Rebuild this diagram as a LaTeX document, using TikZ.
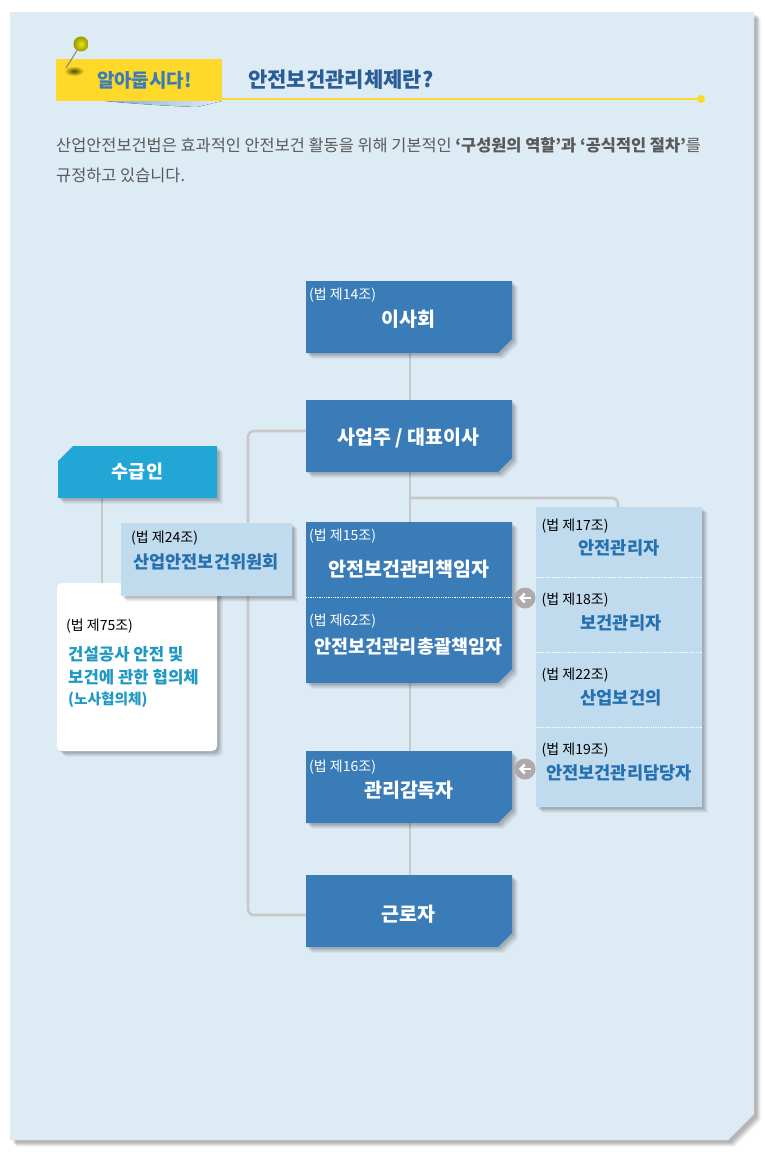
\documentclass[tikz,border=0pt]{standalone}
\usepackage{fontspec}
\setmainfont{Noto Sans CJK KR}
\usetikzlibrary{shadows,arrows.meta}
\pgfdeclarelayer{backdrop}
\pgfdeclarelayer{links}
\pgfdeclarelayer{boxes}
\pgfsetlayers{backdrop,links,boxes,main}
\definecolor{panelblue}{HTML}{DDEBF5}
\definecolor{boxblue}{HTML}{397CB8}
\definecolor{skyblue}{HTML}{22A6D5}
\definecolor{paleblue}{HTML}{C1DBEE}
\definecolor{titleblue}{HTML}{2570B0}
\definecolor{headblue}{HTML}{2A5D95}
\definecolor{linegray}{HTML}{C8C8CB}
\definecolor{circgray}{HTML}{B0A9AB}
\definecolor{signyellow}{HTML}{FFD92A}
\tikzset{
  softshadow/.style={general shadow={shadow xshift=6pt,shadow yshift=-6pt,fill=black,opacity=.03},
    general shadow={shadow xshift=5pt,shadow yshift=-5pt,fill=black,opacity=.05},
    general shadow={shadow xshift=4pt,shadow yshift=-4pt,fill=black,opacity=.06},
    general shadow={shadow xshift=3pt,shadow yshift=-3pt,fill=black,opacity=.07},
    general shadow={shadow xshift=2pt,shadow yshift=-2pt,fill=black,opacity=.07}},
  bluebox/.style={rectangle,minimum width=206pt,minimum height=72pt,inner sep=0pt,outer sep=0pt},
  lawtag/.style={anchor=west,inner sep=0pt,font=\fontsize{14}{14}\selectfont},
  lawwhite/.style={lawtag,text=white},
  staffname/.style={inner sep=0pt,text=titleblue,font=\fontsize{17.6}{17.6}\selectfont\bfseries},
  boxname/.style={text=white,inner sep=0pt,font=\fontsize{19.5}{19.5}\selectfont\bfseries},
  labortext/.style={anchor=west,inner sep=0pt,text=skyblue!92!black,font=\fontsize{16.7}{16.7}\selectfont\bfseries},
  introtext/.style={anchor=west,text=black!65,inner sep=0pt,font=\fontsize{16.4}{16.4}\selectfont},
  link/.style={draw=linegray,line width=2.6pt,rounded corners=6pt},
  divider/.style={white,densely dotted,line width=.8pt},
  backcircle/.style={circle,fill=circgray,minimum size=21pt,inner sep=0pt},
}
\begin{document}
\begin{tikzpicture}[x=1pt,y=-1pt]
\useasboundingbox (0,0) rectangle (764,1156);
% panel
\begin{pgfonlayer}{backdrop}
\fill[panelblue,general shadow={shadow xshift=7pt,shadow yshift=-7pt,fill=black,opacity=.03},
  general shadow={shadow xshift=6pt,shadow yshift=-6pt,fill=black,opacity=.05},
  general shadow={shadow xshift=5pt,shadow yshift=-5pt,fill=black,opacity=.07},
  general shadow={shadow xshift=4pt,shadow yshift=-4pt,fill=black,opacity=.08},
  general shadow={shadow xshift=3pt,shadow yshift=-3pt,fill=black,opacity=.09}]
  (10,12) -- (754,12) -- (754,1114) -- (728,1140) -- (10,1140) -- cycle;
\end{pgfonlayer}
% header
\fill[left color=boxblue!55!panelblue,right color=panelblue]
  (105,101) -- (222,101) -- (197,107) .. controls (170,106) and (135,104) .. (105,101) -- cycle;
\node (sign) at (139,80) [rectangle,fill=signyellow,minimum width=166pt,minimum height=42pt,inner sep=0pt] {};
\node (signtext) at (144.5,80) [text=boxblue,inner sep=0pt,font=\fontsize{19}{19}\selectfont\bfseries] {알아둡시다!};
\shade[inner color=black!40!olive,outer color=signyellow] (74,71) ellipse (10pt and 5pt);
\coordinate (pintip) at (66,68);
\node (pinball) at (81,44) [circle,shading=radial,inner color=olive!25!yellow!80!white,outer color=olive!80!yellow,minimum size=15pt,inner sep=0pt] {};
\node (linedot) at (701,99) [circle,fill=signyellow,minimum size=8pt,inner sep=0pt] {};
\draw[gray,line width=1pt] (pintip) -- (pinball);
\draw[signyellow,line width=2pt] (sign.east |- linedot) -- (linedot);
\node (headline) at (248,80) [anchor=west,text=headblue,inner sep=0pt,font=\fontsize{21}{21}\selectfont\bfseries] {안전보건관리체제란?};
\node (introa) at (56,145) [introtext]
  {산업안전보건법은 효과적인 안전보건 활동을 위해 기본적인 \textbf{‘구성원의 역할’과 ‘공식적인 절차’}를};
\node (introb) at (56,175) [introtext] {규정하고 있습니다.};
% main column
\node (board) at (409,317) [bluebox] {};
\node (boardlaw) at (309,295) [lawwhite] {(법 제14조)};
\node (boardname) at (408.5,319) [boxname] {이사회};
\node (owner) at (409,436) [bluebox] {};
\node (ownername) at (408.5,438) [boxname] {사업주 / 대표이사};
\node (chief) at (409,602.5) [bluebox,minimum height=161pt] {};
\node (chieflaw) at (309,536) [lawwhite] {(법 제15조)};
\node (chiefname) at (409,569.5) [boxname] {안전보건관리책임자};
\draw[divider] (chief.west |- 0,597) -- (chief.east |- 0,597);
\node (totallaw) at (309,621) [lawwhite] {(법 제62조)};
\node (totalname) at (408.5,646.5) [boxname,font=\fontsize{18.5}{18.5}\selectfont\bfseries] {안전보건관리총괄책임자};
\node (super) at (409,787) [bluebox] {};
\node (superlaw) at (309,767) [lawwhite] {(법 제16조)};
\node (supername) at (409,790) [boxname] {관리감독자};
\node (worker) at (409,911) [bluebox] {};
\node (workername) at (408.5,914) [boxname] {근로자};
\begin{pgfonlayer}{boxes}
\foreach \b in {board,owner,chief,super,worker}{
  \fill[boxblue,softshadow] (\b.north west) -- (\b.north east) -- ([yshift=14pt]\b.south east)
    -- ([xshift=-14pt]\b.south east) -- (\b.south west) -- cycle;
}
\end{pgfonlayer}
% left column
\node (contractor) at (137.5,472) [bluebox,minimum width=159pt,minimum height=52pt] {};
\node (contractorname) at (137.5,472) [boxname,font=\fontsize{18.5}{18.5}\selectfont\bfseries] {수급인};
\begin{pgfonlayer}{boxes}
\fill[skyblue,softshadow] ([xshift=15pt]contractor.north west) -- (contractor.north east) -- (contractor.south east)
  -- (contractor.south west) -- ([yshift=-15pt]contractor.north west) -- cycle;
\end{pgfonlayer}
\node (labor) at (137,667) [rectangle,rounded corners=5pt,fill=white,minimum width=160pt,minimum height=168pt,inner sep=0pt,softshadow] {};
\node (laborlaw) at (66,626) [lawtag] {(법 제75조)};
\node (labora) at (68,654) [labortext] {건설공사 안전 및};
\node (laborb) at (68,677) [labortext] {보건에 관한 협의체};
\node (laborc) at (68,700) [labortext,font=\fontsize{14.7}{14.7}\selectfont\bfseries] {(노사협의체)};
\node (committee) at (206.5,559.5) [rectangle,fill=paleblue,minimum width=171pt,minimum height=73pt,inner sep=0pt,softshadow] {};
\node (committeelaw) at (131,538) [lawtag] {(법 제24조)};
\node (committeename) at (206,561.5) [staffname,font=\fontsize{17.5}{17.5}\selectfont\bfseries] {산업안전보건위원회};
% right column
\node (staff) at (619,657) [rectangle,fill=paleblue,minimum width=166pt,minimum height=300pt,inner sep=0pt,softshadow] {};
\foreach \y in {577,652,727}{
  \draw[divider] (staff.west |- 0,\y) -- (staff.east |- 0,\y);
}
\node (lawa) at (541.5,526) [lawtag] {(법 제17조)};
\node (namea) at (619,547.5) [staffname] {안전관리자};
\node (lawb) at (541.5,600) [lawtag] {(법 제18조)};
\node (nameb) at (621,622.5) [staffname] {보건관리자};
\node (lawc) at (541.5,675) [lawtag] {(법 제22조)};
\node (namec) at (621,697.5) [staffname] {산업보건의};
\node (lawd) at (541.5,750) [lawtag] {(법 제19조)};
\node (named) at (619,772.5) [staffname] {안전보건관리담당자};
\node (backa) at (525,598) [backcircle] {};
\node (backb) at (525,769) [backcircle] {};
\foreach \c in {backa,backb}{
  \draw[white,line width=2.5pt,-{Straight Barb[length=4pt,width=9pt]}] ([xshift=6pt]\c.center) -- ([xshift=-6pt]\c.center);
}
% connectors
\coordinate (bendtop) at (248,431);
\coordinate (bendbot) at (248,915);
\coordinate (teeleft) at (410,498);
\coordinate (teeright) at (618,498);
\coordinate (subtop) at (102,498);
\coordinate (subbot) at (102,583);
\begin{pgfonlayer}{links}
\draw[link] (board.south -| teeleft) -- (worker.north -| teeleft);
\draw[link] (owner.west |- bendtop) -- (bendtop) -- (bendbot) -- (worker.west |- bendbot);
\draw[link] (teeleft) -- (teeright) -- (teeright |- staff.north);
\draw[link] (subtop) -- (subbot);
\end{pgfonlayer}
\end{tikzpicture}
\end{document}
